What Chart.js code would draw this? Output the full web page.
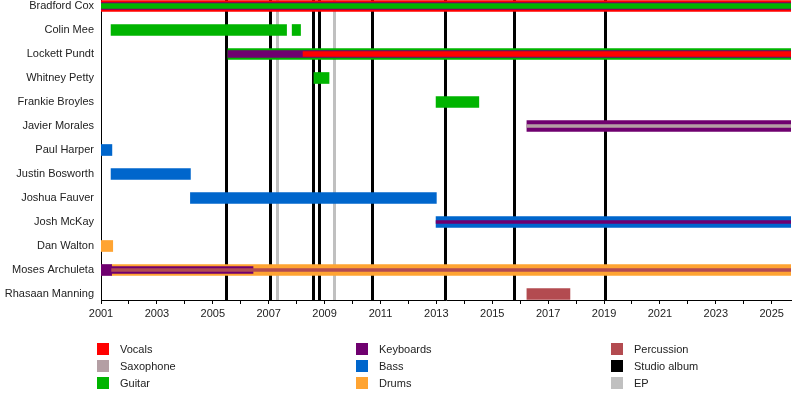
<!DOCTYPE html>
<html>
<head>
<meta charset="utf-8">
<script src="https://cdn.jsdelivr.net/npm/chart.js@4"></script>
<style>
  html, body { margin: 0; padding: 0; background: #fff; }
  #wrap { width: 800px; height: 395px; }
</style>
</head>
<body>
<div id="wrap"><canvas id="myChart" width="800" height="395"></canvas></div>
<script>
// band members, top to bottom
var members = ['Bradford Cox', 'Colin Mee', 'Lockett Pundt', 'Whitney Petty', 'Frankie Broyles',
  'Javier Morales', 'Paul Harper', 'Justin Bosworth', 'Joshua Fauver', 'Josh McKay',
  'Dan Walton', 'Moses Archuleta', 'Rhasaan Manning'];

var END = 2025.69;
var yearTicks = [2001, 2003, 2005, 2007, 2009, 2011, 2013, 2015, 2017, 2019, 2021, 2023, 2025];

// [member, instrument, from, to]
var mainRoles = [
  ['Bradford Cox', 'Vocals', 2001, END],
  ['Colin Mee', 'Guitar', 2001.36, 2007.64],
  ['Colin Mee', 'Guitar', 2007.84, 2008.14],
  ['Lockett Pundt', 'Guitar', 2005.54, END],
  ['Whitney Petty', 'Guitar', 2008.62, 2009.16],
  ['Frankie Broyles', 'Guitar', 2012.99, 2014.52],
  ['Javier Morales', 'Keyboards', 2016.24, END],
  ['Paul Harper', 'Bass', 2001, 2001.39],
  ['Justin Bosworth', 'Bass', 2001.36, 2004.2],
  ['Joshua Fauver', 'Bass', 2004.2, 2013.0],
  ['Josh McKay', 'Bass', 2012.99, END],
  ['Dan Walton', 'Drums', 2001, 2001.42],
  ['Moses Archuleta', 'Keyboards', 2001, 2001.38],
  ['Moses Archuleta', 'Drums', 2001.38, END],
  ['Rhasaan Manning', 'Percussion', 2016.24, 2017.78]
];
var secondRoles = [
  ['Bradford Cox', 'Keyboards', 2001, END],
  ['Lockett Pundt', 'Keyboards', 2005.54, END],
  ['Moses Archuleta', 'Keyboards', 2001.38, 2006.44]
];
var thirdRoles = [
  ['Bradford Cox', 'Guitar', 2001, END],
  ['Lockett Pundt', 'Vocals', 2008.23, END]
];
var fourthRoles = [
  ['Javier Morales', 'Saxophone', 2016.24, END],
  ['Josh McKay', 'Keyboards', 2012.99, END],
  ['Moses Archuleta', 'Percussion', 2001.38, END]
];

var studioAlbums = [2005.46, 2007.05, 2008.60, 2008.81, 2010.71, 2013.31, 2015.79, 2019.04];
var eps = [2007.29, 2009.35];

var legendLabels = ['Vocals', 'Saxophone', 'Guitar', 'Keyboards', 'Bass', 'Drums', 'Percussion', 'Studio album', 'EP'];

var colors = {
  'Vocals': '#ff0000',
  'Saxophone': '#b49fa4',
  'Guitar': '#00b400',
  'Keyboards': '#6f006f',
  'Bass': '#0066cc',
  'Drums': '#ffa432',
  'Percussion': '#b34b50',
  'Studio album': '#000000',
  'EP': '#c0c0c0'
};

// one dataset per (layer, instrument)
var datasets = [];
[[mainRoles, 11], [secondRoles, 7], [thirdRoles, 5], [fourthRoles, 3]].forEach(function(layer) {
  var byInst = {};
  layer[0].forEach(function(r) {
    if (!byInst[r[1]]) byInst[r[1]] = [];
    byInst[r[1]].push({ y: members.indexOf(r[0]), x: [r[2], r[3]] });
  });
  Object.keys(byInst).forEach(function(inst) {
    datasets.push({
      label: inst,
      data: byInst[inst],
      backgroundColor: colors[inst],
      borderWidth: 0,
      barThickness: layer[1],
      grouped: false,
      order: layer[1]
    });
  });
});

// album release lines behind the bars
var releaseLines = {
  id: 'releaseLines',
  beforeDatasetsDraw: function(chart) {
    var ctx = chart.ctx, a = chart.chartArea, xs = chart.scales.x;
    ctx.save();
    ctx.lineWidth = 3;
    ctx.strokeStyle = colors['EP'];
    eps.forEach(function(v) {
      var px = Math.round(xs.getPixelForValue(v)) + 0.5;
      ctx.beginPath(); ctx.moveTo(px, a.top); ctx.lineTo(px, a.bottom); ctx.stroke();
    });
    ctx.strokeStyle = colors['Studio album'];
    studioAlbums.forEach(function(v) {
      var px = Math.round(xs.getPixelForValue(v)) + 0.5;
      ctx.beginPath(); ctx.moveTo(px, a.top); ctx.lineTo(px, a.bottom); ctx.stroke();
    });
    ctx.restore();
  }
};

// three column legend under the axis
var legendBox = {
  id: 'legendBox',
  afterDraw: function(chart) {
    var ctx = chart.ctx;
    var colX = [97, 356, 611], rowY = [349, 366, 383];
    ctx.save();
    ctx.font = '11px "Liberation Sans", Arial, sans-serif';
    ctx.textBaseline = 'middle';
    ctx.textAlign = 'left';
    legendLabels.forEach(function(lbl, i) {
      var cx = colX[Math.floor(i / 3)], cy = rowY[i % 3];
      ctx.fillStyle = colors[lbl];
      ctx.fillRect(cx, cy - 6, 12, 12);
      ctx.fillStyle = '#222';
      ctx.fillText(lbl, cx + 23, cy + 1);
    });
    ctx.restore();
  }
};

Chart.defaults.font.family = '"Liberation Sans", Arial, sans-serif';
Chart.defaults.font.size = 11;
Chart.defaults.color = '#222';

var ctx = document.getElementById('myChart').getContext('2d');
var myChart = new Chart(ctx, {
  type: 'bar',
  data: { datasets: datasets },
  plugins: [releaseLines, legendBox],
  options: {
    indexAxis: 'y',
    responsive: false,
    animation: false,
    devicePixelRatio: 1,
    events: [],
    layout: { padding: { top: 0, right: 9, bottom: 0, left: 0 } },
    scales: {
      x: {
        type: 'linear',
        min: 2001,
        max: END,
        afterBuildTicks: function(scale) {
          var t = [];
          for (var y = 2001; y <= 2025; y++) t.push({ value: y });
          scale.ticks = t;
        },
        afterFit: function(scale) {
          scale.height = 95;
          scale.paddingLeft = 0;
          scale.paddingRight = 0;
        },
        ticks: {
          autoSkip: false,
          maxRotation: 0,
          padding: 3,
          color: '#222',
          callback: function(value) {
            return yearTicks.indexOf(value) >= 0 ? String(value) : '';
          }
        },
        grid: { drawOnChartArea: false, drawTicks: true, tickLength: 4, color: '#000' },
        border: { color: '#000', width: 1 }
      },
      y: {
        type: 'linear',
        reverse: true,
        offset: false,
        min: -0.25,
        max: 12.25,
        afterBuildTicks: function(scale) {
          scale.ticks = members.map(function(m, i) { return { value: i }; });
        },
        afterFit: function(scale) {
          scale.width = 101;
          scale.paddingTop = 0;
          scale.paddingBottom = 0;
        },
        ticks: {
          autoSkip: false,
          padding: 7,
          color: '#222',
          callback: function(value) { return members[value]; }
        },
        grid: { display: false, drawTicks: false, offset: false },
        border: { color: '#000', width: 1 }
      }
    },
    plugins: {
      legend: { display: false },
      tooltip: { enabled: false },
      title: { display: false }
    }
  }
});
</script>
</body>
</html>
